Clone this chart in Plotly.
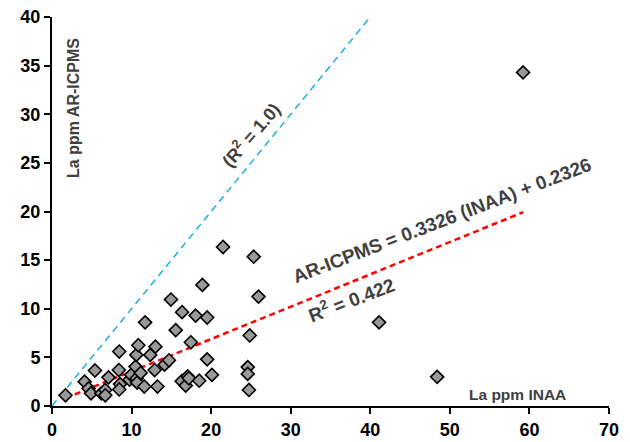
import plotly.graph_objects as go

# La en ppm: INAA (x) contra AR-ICPMS (y)
la_inaa = [1.7, 4.1, 4.6, 4.9, 5.4, 6.2, 6.7, 6.7, 7.1, 8.45,
           8.4, 8.55, 8.45, 9.75, 9.95, 10.5, 10.6, 10.85, 10.65, 10.7,
           11.15, 11.6, 11.7, 12.35, 13.0, 12.9, 13.25, 14.15, 14.7, 14.95,
           15.55, 16.3, 16.35, 16.8, 17.05, 17.2, 17.45, 18.05, 18.5, 18.9,
           19.5, 19.5, 20.1, 21.5, 24.6, 24.6, 24.75, 24.85, 25.35, 25.95,
           41.1, 48.4, 59.2]
la_icpms = [1.1, 2.5, 1.8, 1.3, 3.65, 1.3, 1.65, 1.1, 2.95, 5.6,
            3.7, 2.25, 1.7, 2.7, 3.2, 4.05, 5.25, 6.25, 2.85, 2.4,
            3.4, 2.0, 8.6, 5.25, 6.1, 3.7, 2.0, 4.25, 4.7, 10.95,
            7.8, 2.55, 9.65, 2.1, 3.05, 2.85, 6.55, 9.3, 2.6, 12.45,
            9.1, 4.8, 3.2, 16.35, 4.0, 3.3, 1.65, 7.25, 15.35, 11.25,
            8.6, 3.0, 34.3]

# marcas de los ejes
ticks_x = [0, 10, 20, 30, 40, 50, 60, 70]
ticks_y = [0, 5, 10, 15, 20, 25, 30, 35, 40]

# recta de regresion y recta 1:1
pendiente = 0.3326
intercepto = 0.2326
x_fit = [min(la_inaa), max(la_inaa)]
y_fit = [pendiente * v + intercepto for v in x_fit]
x_uno = [0, 40]
y_uno = [0, 40]

gris = '#404040'
fuente = 'Arial, Liberation Sans, sans-serif'

fig = go.Figure()

fig.add_trace(go.Scatter(x=x_uno, y=y_uno, mode='lines',
                         line=dict(color='#1AAFE6', width=1.5, dash='7px,5px'),
                         hoverinfo='skip'))
fig.add_trace(go.Scatter(x=x_fit, y=y_fit, mode='lines',
                         line=dict(color='#FF0000', width=2.5, dash='6px,4px'),
                         hoverinfo='skip'))
fig.add_trace(go.Scatter(x=la_inaa, y=la_icpms, mode='markers',
                         marker=dict(symbol='diamond', size=10, color='#999999',
                                     line=dict(color='black', width=1.6))))

# textos sobre el grafico
fig.add_annotation(x=25.0, y=27.9, text='<b>(R<sup>2</sup> = 1.0)</b>', textangle=-49,
                   showarrow=False, font=dict(family=fuente, size=18, color=gris))
fig.add_annotation(x=49.0, y=19.1, text='<b>AR-ICPMS = 0.3326 (INAA) + 0.2326</b>', textangle=-21,
                   showarrow=False, font=dict(family=fuente, size=19, color=gris))
fig.add_annotation(x=37.6, y=11.0, text='<b>R<sup>2</sup> = 0.422</b>', textangle=-21,
                   showarrow=False, font=dict(family=fuente, size=19, color=gris))
fig.add_annotation(x=58.5, y=1.15, text='<b>La ppm INAA</b>',
                   showarrow=False, font=dict(family=fuente, size=15.5, color=gris))
fig.add_annotation(x=2.7, y=30.7, text='<b>La ppm AR-ICPMS</b>', textangle=-90,
                   showarrow=False, font=dict(family=fuente, size=16, color=gris))

# la pagina deja 8px de margen en el body
fig.update_layout(width=622, height=434, showlegend=False,
                  plot_bgcolor='white', paper_bgcolor='white',
                  margin=dict(l=44, r=21, t=9, b=36))
fig.update_xaxes(range=[0, 70], tickvals=ticks_x, ticktext=['<b>%d</b>' % t for t in ticks_x],
                 showgrid=False, zeroline=False, automargin=False, ticklabeloverflow='allow',
                 showline=True, linecolor='black', linewidth=2,
                 ticks='outside', ticklen=6, tickwidth=2, tickcolor='black',
                 tickfont=dict(family=fuente, size=18, color='black'))
fig.update_yaxes(range=[0, 40], tickvals=ticks_y, ticktext=['<b>%d</b>' % t for t in ticks_y],
                 showgrid=False, zeroline=False, automargin=False, ticklabeloverflow='allow',
                 showline=True, linecolor='black', linewidth=2,
                 ticks='outside', ticklen=6, tickwidth=2, tickcolor='black',
                 tickfont=dict(family=fuente, size=18, color='black'))

fig.write_html('out.html')
